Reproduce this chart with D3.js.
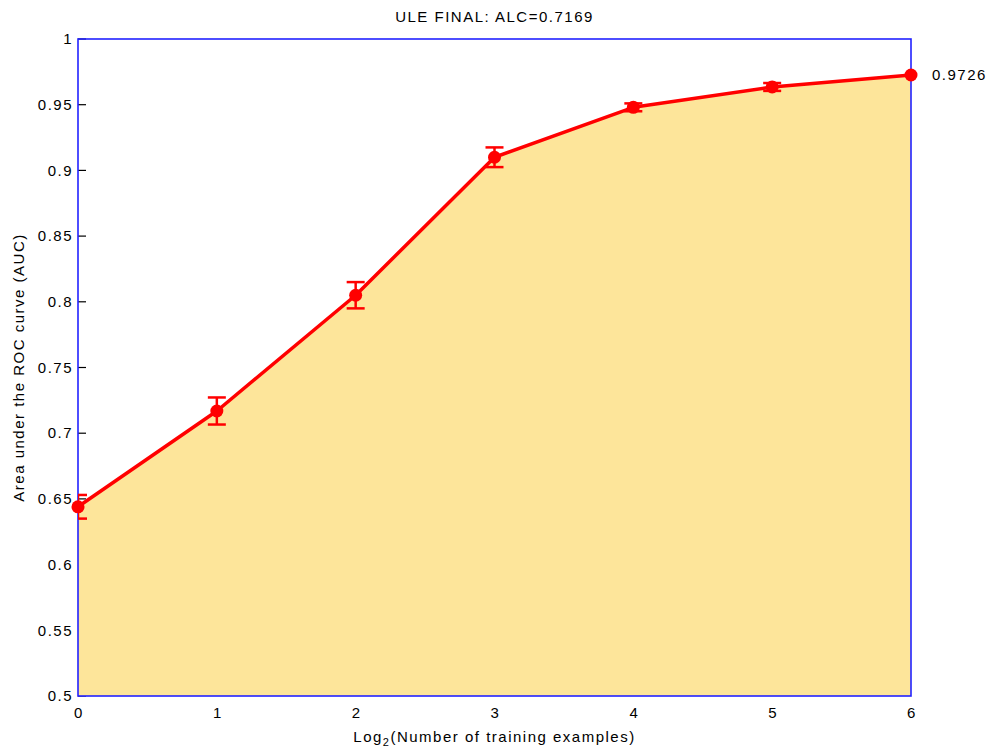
<!DOCTYPE html>
<html>
<head>
<meta charset="utf-8">
<script src="https://cdn.jsdelivr.net/npm/d3@7"></script>
<style>
  html, body { margin: 0; padding: 0; background: #fff; }
  svg { display: block; }
  text { font-family: "Liberation Sans", Arial, Helvetica, sans-serif; fill: #000; letter-spacing: 1.5px; }
</style>
</head>
<body>
<svg id="chart" width="995" height="756"></svg>
<script>
// Learning curve: AUC versus log2 of the number of training examples
const log2Examples = [0, 1, 2, 3, 4, 5, 6];
const aucValues    = [0.644, 0.7169, 0.805, 0.910, 0.948, 0.9635, 0.9726];
const aucErrors    = [0.009, 0.0103, 0.010, 0.0075, 0.003, 0.003, 0.0];
const xTickValues  = [0, 1, 2, 3, 4, 5, 6];
const yTickValues  = [0.5, 0.55, 0.6, 0.65, 0.7, 0.75, 0.8, 0.85, 0.9, 0.95, 1];
const chartTitle   = "ULE FINAL: ALC=0.7169";
const finalLabel   = "0.9726";

const svg = d3.select("#chart");
const m = { left: 78, right: 84, top: 39, bottom: 60 };
const W = 995, H = 756;
const FS = 15;

const x = d3.scaleLinear().domain([0, 6]).range([m.left, W - m.right]);
const y = d3.scaleLinear().domain([0.5, 1]).range([H - m.bottom, m.top]);
const fmt = d => String(+d.toFixed(2));

const data = log2Examples.map((d, i) => ({ x: d, v: aucValues[i], e: aucErrors[i] }));

svg.append("clipPath").attr("id", "plotClip").append("rect")
  .attr("x", m.left).attr("y", m.top)
  .attr("width", W - m.right - m.left).attr("height", H - m.bottom - m.top);

// Inward ticks on the left axis (drawn first, the shaded area covers them)
svg.append("g").selectAll("line").data(yTickValues).enter().append("line")
  .attr("x1", m.left).attr("x2", m.left + 8)
  .attr("y1", d => y(d)).attr("y2", d => y(d))
  .attr("stroke", "#000").attr("stroke-width", 1.2);

// Shaded area under the curve
svg.append("path")
  .datum(data)
  .attr("fill", "#fde59a")
  .attr("d", d3.area().x(d => x(d.x)).y0(y(0.5)).y1(d => y(d.v)));

// Tick labels
svg.append("g").selectAll("text").data(yTickValues).enter().append("text")
  .attr("x", m.left - 5).attr("y", d => y(d)).attr("dy", "0.35em")
  .attr("text-anchor", "end").attr("font-size", FS)
  .text(fmt);

svg.append("g").selectAll("text").data(xTickValues).enter().append("text")
  .attr("x", d => x(d) + 1).attr("y", y(0.5) + 22)
  .attr("text-anchor", "middle").attr("font-size", FS)
  .text(d => d);

// Plot frame
svg.append("rect")
  .attr("x", m.left).attr("y", m.top)
  .attr("width", W - m.right - m.left).attr("height", H - m.bottom - m.top)
  .attr("fill", "none").attr("stroke", "#2222ff").attr("stroke-width", 1.6);

// Curve
svg.append("path")
  .datum(data)
  .attr("fill", "none").attr("stroke", "#ff0000").attr("stroke-width", 3.5)
  .attr("stroke-linejoin", "round")
  .attr("d", d3.line().x(d => x(d.x)).y(d => y(d.v)));

// Error bars
const eb = svg.append("g").attr("stroke", "#ff0000").attr("stroke-width", 2.5)
  .attr("clip-path", "url(#plotClip)");
data.filter(d => d.e > 0).forEach(d => {
  const cx = x(d.x), y1 = y(d.v + d.e), y2 = y(d.v - d.e);
  eb.append("line").attr("x1", cx).attr("x2", cx).attr("y1", y1).attr("y2", y2);
  eb.append("line").attr("x1", cx - 9).attr("x2", cx + 9).attr("y1", y1).attr("y2", y1);
  eb.append("line").attr("x1", cx - 9).attr("x2", cx + 9).attr("y1", y2).attr("y2", y2);
});

// Markers
svg.append("g").selectAll("circle").data(data).enter().append("circle")
  .attr("cx", d => x(d.x)).attr("cy", d => y(d.v)).attr("r", 6.5)
  .attr("fill", "#ff0000");

// Final value annotation
const last = data[data.length - 1];
svg.append("text")
  .attr("x", x(last.x) + 21).attr("y", y(last.v)).attr("dy", "0.35em")
  .attr("font-size", FS).text(finalLabel);

// Title
svg.append("text")
  .attr("x", (m.left + W - m.right) / 2).attr("y", 22)
  .attr("text-anchor", "middle").attr("font-size", FS)
  .text(chartTitle);

// Axis labels
const xl = svg.append("text")
  .attr("x", (m.left + W - m.right) / 2).attr("y", H - 14)
  .attr("text-anchor", "middle").attr("font-size", FS);
xl.append("tspan").text("Log");
xl.append("tspan").attr("font-size", 11).attr("dy", 4).text("2");
xl.append("tspan").attr("dy", -4).text("(Number of training examples)");

svg.append("text")
  .attr("transform", `translate(24,${(m.top + H - m.bottom) / 2}) rotate(-90)`)
  .attr("text-anchor", "middle").attr("font-size", FS)
  .text("Area under the ROC curve (AUC)");
</script>
</body>
</html>
